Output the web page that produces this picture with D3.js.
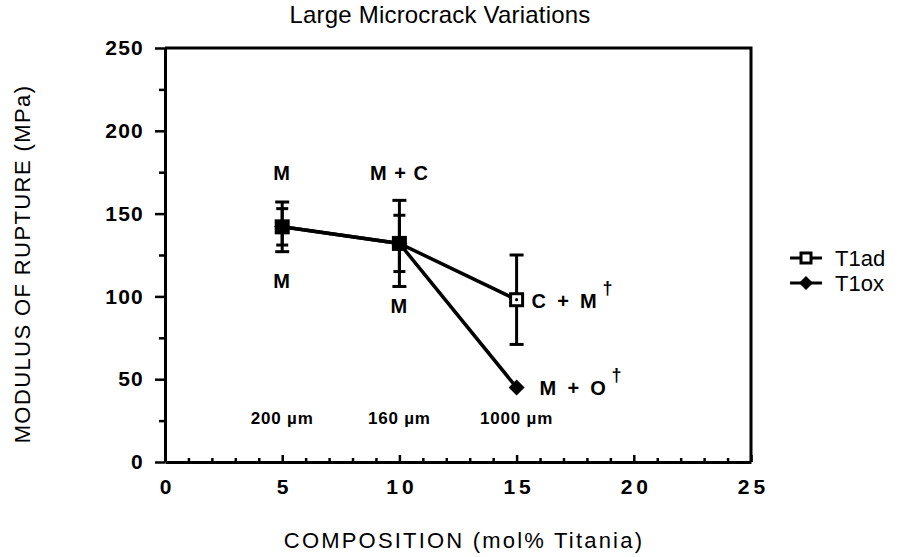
<!DOCTYPE html>
<html>
<head>
<meta charset="utf-8">
<script src="https://cdn.jsdelivr.net/npm/d3@7"></script>
<style>
  html, body { margin: 0; padding: 0; background: #fff; }
  svg { display: block; font-family: "Liberation Sans", Arial, Helvetica, sans-serif; }
</style>
</head>
<body>
<svg id="chart" width="911" height="557"></svg>
<script>
// Composition (mol% titania) for each specimen group
const compositions = [5, 10, 15];
// T1ad: as-densified specimens, mean MOR and error half-width (MPa)
const t1adMean = [142, 132, 98];
const t1adErr = [15, 26, 27];
// T1ox: oxidized specimens, mean MOR and error half-width (MPa)
const t1oxMean = [142, 132, 45];
const t1oxErr = [11, 17, 0];
// Phase labels and grain sizes per composition
const phasesAbove = ["M", "M + C", null];
const phasesBelow = ["M", "M", null];
const grainSizes = ["200 µm", "160 µm", "1000 µm"];
const xTicks = [0, 5, 10, 15, 20, 25];
const yTicks = [0, 50, 100, 150, 200, 250];
const seriesNames = ["T1ad", "T1ox"];

const svg = d3.select("#chart");
const plotL = 165, plotR = 751, plotT = 48, plotB = 462;

const x = d3.scaleLinear().domain([0, 25]).range([plotL, plotR]);
const y = d3.scaleLinear().domain([0, 250]).range([plotB, plotT]);

// Title
svg.append("text")
  .attr("x", 440).attr("y", 23)
  .attr("text-anchor", "middle")
  .attr("font-size", 24).attr("letter-spacing", 0.2)
  .text("Large Microcrack Variations");

// Frame: top and right edges
svg.append("path")
  .attr("d", `M${plotL},${plotT}H${plotR}V${plotB}`)
  .attr("fill", "none").attr("stroke", "#000").attr("stroke-width", 3);

// Y axis: major ticks with labels, minor ticks between
const yAxis = svg.append("g").attr("transform", `translate(${plotL},0)`)
  .call(d3.axisLeft(y).tickValues(yTicks).tickSize(10).tickSizeOuter(0).tickPadding(11));
svg.append("g").attr("transform", `translate(${plotL},0)`)
  .call(d3.axisLeft(y).tickValues(d3.range(25, 250, 50)).tickSize(6).tickSizeOuter(0).tickFormat(""))
  .call(g => g.select(".domain").remove());

// X axis: inward ticks, labels placed below
const xAxis = svg.append("g").attr("transform", `translate(0,${plotB})`)
  .call(d3.axisBottom(x).tickValues(xTicks).tickSize(-7).tickSizeOuter(0).tickPadding(17));
svg.append("g").attr("transform", `translate(0,${plotB})`)
  .call(d3.axisBottom(x).tickValues(d3.range(1, 25).filter(v => v % 5 !== 0)).tickSize(-4).tickSizeOuter(0).tickFormat(""))
  .call(g => g.select(".domain").remove());

svg.selectAll(".domain").attr("stroke-width", 3);
svg.selectAll(".tick line").attr("stroke-width", 2.5);
svg.selectAll(".tick text")
  .attr("font-family", "Liberation Sans, Arial, sans-serif")
  .attr("font-weight", "bold").attr("font-size", 21).attr("fill", "#000");
yAxis.selectAll(".tick text").attr("letter-spacing", 1.2);
xAxis.selectAll(".tick text").attr("letter-spacing", 4).attr("dx", 2).attr("dy", "0.71em");

// Axis titles
svg.append("text")
  .attr("x", 464).attr("y", 548)
  .attr("text-anchor", "middle").attr("font-size", 22).attr("letter-spacing", 2.2)
  .text("COMPOSITION (mol% Titania)");
svg.append("text")
  .attr("transform", `translate(30,264) rotate(-90)`)
  .attr("text-anchor", "middle").attr("font-size", 22).attr("letter-spacing", 1.4)
  .text("MODULUS OF RUPTURE (MPa)");

const ad = compositions.map((c, i) => ({ c, m: t1adMean[i], e: t1adErr[i] }));
const ox = compositions.map((c, i) => ({ c, m: t1oxMean[i], e: t1oxErr[i] }));

// Error bars
function errorBars(data, capW) {
  const g = svg.append("g").attr("stroke", "#000").attr("stroke-width", 3);
  data.filter(d => d.e > 0).forEach(d => {
    const cx = x(d.c);
    g.append("line").attr("x1", cx).attr("x2", cx).attr("y1", y(d.m - d.e)).attr("y2", y(d.m + d.e));
    [d.m - d.e, d.m + d.e].forEach(v => {
      g.append("line").attr("x1", cx - capW).attr("x2", cx + capW).attr("y1", y(v)).attr("y2", y(v));
    });
  });
}
errorBars(ad, 7);
errorBars(ox, 6);

// Series lines
const line = d3.line().x(d => x(d.c)).y(d => y(d.m));
[ad, ox].forEach(data => {
  svg.append("path").datum(data).attr("d", line)
    .attr("fill", "none").attr("stroke", "#000").attr("stroke-width", 3.5);
});

// Markers
const sq = 12, dm = 8;
svg.selectAll(".mk-ad").data(ad).enter().append("rect")
  .attr("x", d => x(d.c) - sq / 2).attr("y", d => y(d.m) - sq / 2)
  .attr("width", sq).attr("height", sq)
  .attr("fill", (d, i) => i < 2 ? "#000" : "#fff").attr("stroke", "#000").attr("stroke-width", 3);
svg.selectAll(".dot-ad").data(ad.filter((d, i) => i >= 2)).enter().append("circle")
  .attr("cx", d => x(d.c)).attr("cy", d => y(d.m)).attr("r", 1.6).attr("fill", "#000");
svg.selectAll(".mk-ox").data(ox).enter().append("path")
  .attr("d", d => `M${x(d.c)},${y(d.m) - dm}L${x(d.c) + dm},${y(d.m)}L${x(d.c)},${y(d.m) + dm}L${x(d.c) - dm},${y(d.m)}Z`)
  .attr("fill", "#000");

// Phase annotations
const lab = svg.append("g").attr("font-weight", "bold").attr("font-size", 20)
  .attr("letter-spacing", 1).attr("text-anchor", "middle");
compositions.forEach((c, i) => {
  if (phasesAbove[i]) lab.append("text").attr("x", x(c)).attr("y", y(157) - 22).text(phasesAbove[i]);
  if (phasesBelow[i]) lab.append("text").attr("x", x(c)).attr("y", y(t1adMean[i] - t1adErr[i]) + (i === 0 ? 36 : 27)).text(phasesBelow[i]);
});
function phaseSup(main, cx, cy) {
  const t = svg.append("text").attr("x", cx).attr("y", cy)
    .attr("font-weight", "bold").attr("font-size", 20).attr("letter-spacing", 2.8);
  t.append("tspan").text(main);
  t.append("tspan").attr("dx", 3).attr("dy", -14).attr("font-size", 18).text("†");
}
phaseSup("C + M", x(15) + 15, y(t1adMean[2]) + 8);
phaseSup("M + O", x(15) + 23, y(t1oxMean[2]) + 8);

// Grain size labels
svg.append("g").attr("font-weight", "bold").attr("font-size", 17).attr("text-anchor", "middle")
  .attr("letter-spacing", 0.8)
  .selectAll("text").data(grainSizes).enter().append("text")
  .attr("x", (d, i) => x(compositions[i])).attr("y", 424).text(d => d);

// Legend
const lg = svg.append("g").attr("transform", "translate(790,258)");
seriesNames.forEach((name, i) => {
  const g = lg.append("g").attr("transform", `translate(0,${i * 25})`);
  g.append("line").attr("x1", 0).attr("x2", 32).attr("stroke", "#000").attr("stroke-width", 3);
  if (i === 0) {
    g.append("rect").attr("x", 11).attr("y", -5).attr("width", 10).attr("height", 10)
      .attr("fill", "#fff").attr("stroke", "#000").attr("stroke-width", 3);
  } else {
    g.append("path").attr("d", "M16,-7L23,0L16,7L9,0Z").attr("fill", "#000");
  }
  g.append("text").attr("x", 45).attr("y", 8).attr("font-size", 22).text(name);
});
</script>
</body>
</html>
